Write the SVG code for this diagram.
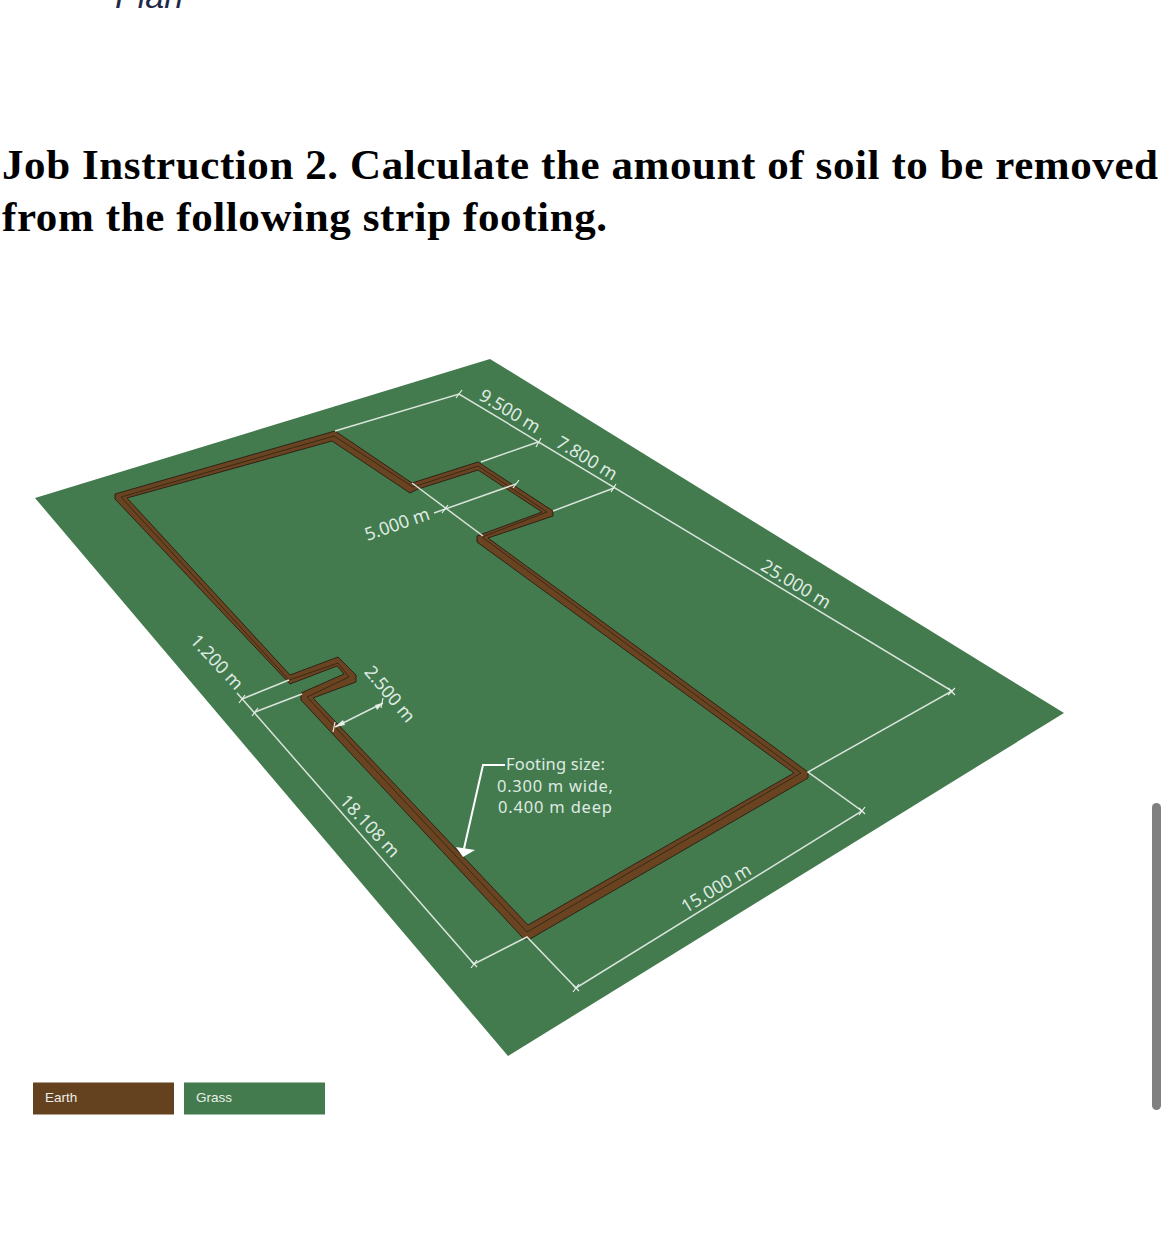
<svg xmlns="http://www.w3.org/2000/svg" width="1170" height="1249" viewBox="0 0 1170 1249">
<style>
.h{font-family:"Liberation Serif","Times New Roman",serif;font-weight:700;font-size:43px;fill:#000}
.d{font-family:"Noto Sans","Open Sans",sans-serif;font-size:18px;fill:#dfeae2;text-anchor:middle}
.f{font-family:"Noto Sans","Open Sans",sans-serif;font-size:16.500px;fill:#dfeae2}
.l{font-family:"Liberation Sans",Arial,sans-serif;font-size:13.500px;fill:#ecefe9}
.dim{fill:none;stroke:#d9e4da;stroke-width:1.500}
.tick{fill:none;stroke:#e8eee8;stroke-width:1.200}
</style>
<rect width="1170" height="1249" fill="#fff"/>
<text x="115" y="8" font-family="Liberation Sans,Arial,sans-serif" font-style="italic" font-size="34" fill="#1f2a4a">Plan</text>
<text class="h" x="2" y="179" textLength="1156" lengthAdjust="spacing">Job Instruction 2. Calculate the amount of soil to be removed</text>
<text class="h" x="2" y="231" textLength="605" lengthAdjust="spacing">from the following strip footing.</text>
<g id="ground"><polygon points="35,498 490,359 1064,713 508,1056" fill="#437b4e"/></g>
<g id="footing">
<path fill="#6a4321" fill-rule="evenodd" stroke="#2f2317" stroke-width="1" stroke-linejoin="miter" d="M115,494 L335,431 L412,483 L478,462 L553,511 L553,516 L488,538 L808,772 L808,778 L530,939 L524,939 L301,700 L301,693 L344,674 L337,666 L290,684 L115,499 Z M127,498 L290,675 L338,657 L356,675 L356,682 L313,698 L528,925 L794,773 L477,542 L477,536 L542,512 L478,470 L418,489 L410,493 L332,441 Z"/>
<polyline fill="none" stroke="#2f2317" stroke-width=".8" points="121,497 334,436 413,487 478,466 547,512 482,537 801,773 527,932 307,697 349,677 338,663 289,680 121,497"/>
</g>
<g id="connectors">
<path class="dim" d="M335,431L459,394L952,691L808,772L862,811L576,988L527,937L474,964L237,693M255,712L302,694M242,699L289,680M538,442L481,462M614,488L553,511M412,483L483,536M434,513L516,484M383,703L335,727"/>
<path class="tick" d="M456,398L462,390M536,447L541,438M611,492L616,484M948,695L955,688M948,688L955,695M859,815L865,807M859,808L865,814M573,992L579,984M573,985L579,991M471,968L477,960M471,961L477,967M252,716L258,708M239,703L245,695M442,513L448,505M513,488L519,480M335,722L333,732M383,698L381,708"/>
<path d="M335,727L343,720L345,725ZM383,703L375,705L377,710Z" fill="#e8eee8"/>
<path d="M505,765H483L463,853" fill="none" stroke="#fff" stroke-width="2"/>
<polygon points="456,847 475,850 463,857" fill="#fff"/>
</g>
<g id="label-9500"><text class="d" transform="translate(510,411) rotate(31)" dy=".35em">9.500 m</text></g>
<g id="label-7800"><text class="d" transform="translate(587,458) rotate(31)" dy=".35em">7.800 m</text></g>
<g id="label-25000"><text class="d" transform="translate(796,584) rotate(31)" dy=".35em">25.000 m</text></g>
<g id="label-15000"><text class="d" transform="translate(716,888) rotate(-31)" dy=".35em">15.000 m</text></g>
<g id="label-18108"><text class="d" transform="translate(370,826) rotate(47)" dy=".35em">18.108 m</text></g>
<g id="label-1200"><text class="d" transform="translate(217,662) rotate(47)" dy=".35em">1.200 m</text></g>
<g id="label-2500"><text class="d" transform="translate(390,694) rotate(50)" dy=".35em">2.500 m</text></g>
<g id="label-5000"><text class="d" transform="translate(397,524) rotate(-19)" dy=".35em">5.000 m</text></g>
<g id="label-footing">
<text class="f" x="506" y="770" textLength="99" lengthAdjust="spacing">Footing size:</text>
<text class="f" x="497" y="792" textLength="116" lengthAdjust="spacing">0.300 m wide,</text>
<text class="f" x="498" y="813" textLength="114" lengthAdjust="spacing">0.400 m deep</text>
</g>
<g id="legend-earth"><rect x="33" y="1082.500" width="141" height="32" fill="#65421f"/><text class="l" x="45" y="1102">Earth</text></g>
<g id="legend-grass"><rect x="184" y="1082.500" width="141" height="32" fill="#437b4e"/><text class="l" x="196" y="1102">Grass</text></g>
<rect id="scrollbar" x="1152" y="803" width="9" height="307" rx="4.500" fill="#808080"/>
</svg>
